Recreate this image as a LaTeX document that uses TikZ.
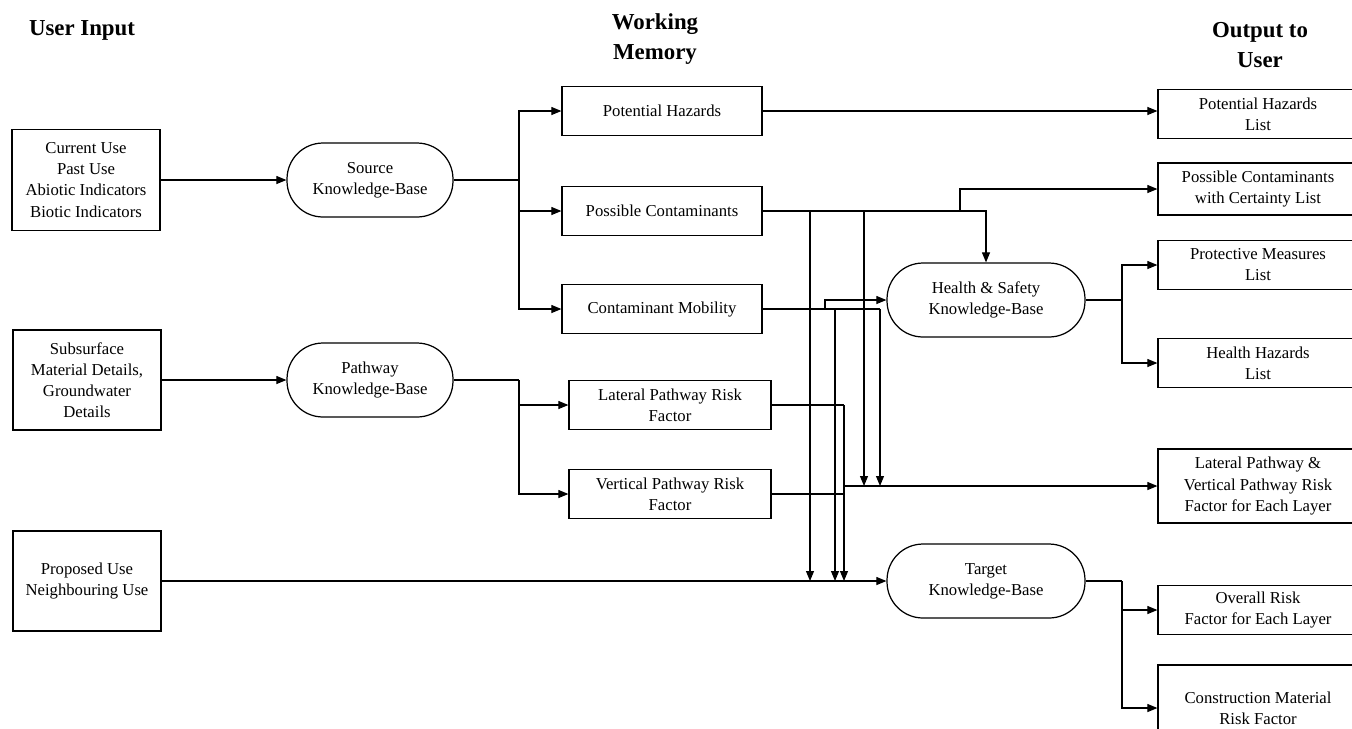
\documentclass[tikz,border=0pt]{standalone}
\usepackage{fontspec}
\setmainfont{Liberation Serif}
\usetikzlibrary{arrows.meta}
\tikzset{box/.style = {draw, line width=0.7pt, align=center, inner sep=2pt,
                       font=\fontsize{9.5}{12}\selectfont, minimum height=0.98cm}}
\tikzset{kb/.style = {box, rounded corners=0.72cm, minimum width=3.32cm, minimum height=1.48cm}}
\tikzset{head/.style = {align=center, font=\fontsize{13}{17}\selectfont\bfseries}}
\tikzset{link/.style = {line width=0.6pt}}
\tikzset{arr/.style = {line width=0.6pt, -{Triangle[length=2mm, width=1.6mm]}}}

\begin{document}
\begin{tikzpicture}[x=0.02cm, y=-0.02cm]
    \useasboundingbox (0, 0) rectangle (1352, 728);

    \node [head] (hin) at (82, 30) {User Input};
    \node [head] (hwm) at (655, 39) {Working\\Memory};
    \node [head] (hout) at (1260, 45) {Output to\\User};

    \node [box, minimum width=2.96cm, minimum height=2.02cm] (in1) at (86, 180) {Current Use\\Past Use\\Abiotic Indicators\\Biotic Indicators};
    \node [box, minimum width=2.96cm, minimum height=2cm] (in2) at (87, 380) {Subsurface\\Material Details,\\Groundwater\\Details};
    \node [box, minimum width=2.96cm, minimum height=2cm] (in3) at (87, 581) {Proposed Use\\Neighbouring Use};

    \node [kb] (skb) at (370, 180) {Source\\Knowledge-Base};
    \node [kb] (pkb) at (370, 380) {Pathway\\Knowledge-Base};
    \node [kb, minimum width=3.96cm] (hkb) at (986, 300) {Health \& Safety\\Knowledge-Base};
    \node [kb, minimum width=3.96cm] (tkb) at (986, 581) {Target\\Knowledge-Base};

    \node [box, minimum width=4cm] (ph) at (662, 111) {Potential Hazards};
    \node [box, minimum width=4cm] (pc) at (662, 211) {Possible Contaminants};
    \node [box, minimum width=4cm] (cm) at (662, 309) {Contaminant Mobility};
    \node [box, minimum width=4.04cm] (lp) at (670, 405) {Lateral Pathway Risk\\Factor};
    \node [box, minimum width=4.04cm] (vp) at (670, 494) {Vertical Pathway Risk\\Factor};

    \node [box, minimum width=4cm] (o1) at (1258, 114) {Potential Hazards\\List};
    \node [box, minimum width=4cm, minimum height=1.04cm] (o2) at (1258, 189) {Possible Contaminants\\with Certainty List};
    \node [box, minimum width=4cm] (o3) at (1258, 265) {Protective Measures\\List};
    \node [box, minimum width=4cm] (o4) at (1258, 363) {Health Hazards\\List};
    \node [box, minimum width=4cm, minimum height=1.48cm] (o5) at (1258, 486) {Lateral Pathway \&\\Vertical Pathway Risk\\Factor for Each Layer};
    \node [box, minimum width=4cm] (o6) at (1258, 610) {Overall Risk\\Factor for Each Layer};
    \node [box, minimum width=4cm, minimum height=1.72cm] (o7) at (1258, 708) {Construction Material\\Risk Factor};

    \coordinate (sj) at (519, 180);
    \coordinate (pj) at (519, 380);
    \coordinate (pc1) at (810, 211);
    \coordinate (pc2) at (864, 211);
    \coordinate (pc3) at (960, 211);
    \coordinate (cm1) at (825, 309);
    \coordinate (cm2) at (835, 309);
    \coordinate (cm3) at (880, 309);
    \coordinate (lj) at (844, 405);
    \coordinate (lv) at (844, 486);
    \coordinate (hj) at (1122, 300);
    \coordinate (tj) at (1122, 581);

    \draw [arr] (in1) -- (skb);
    \draw [link] (skb) -- (sj);
    \foreach \t in {ph, pc, cm} {
      \draw [arr] (sj) |- (\t);
    }

    \draw [arr] (in2) -- (pkb);
    \draw [link] (pkb) -- (pj);
    \foreach \t in {lp, vp} {
      \draw [arr] (pj) |- (\t);
    }

    \draw [arr] (in3) -- (tkb);
    \draw [arr] (ph) -- (ph.east -| o1.west);

    \draw [arr] (pc) -| (hkb);
    \draw [arr] (pc3) |- (o2);
    \draw [arr] (pc1) -- (pc1 |- tkb);
    \draw [arr] (pc2) -- (pc2 |- lv);

    \draw [link] (cm) -- (cm3);
    \draw [arr] (cm1) |- (hkb);
    \draw [arr] (cm2) -- (cm2 |- tkb);
    \draw [arr] (cm3) -- (cm3 |- lv);

    \draw [link] (lp) -- (lj);
    \draw [arr] (lj) -- (lj |- tkb);
    \draw [link] (vp) -- (vp -| lj);
    \draw [arr] (lv) -- (o5);

    \draw [link] (hkb) -- (hj);
    \foreach \t in {o3, o4} {
      \draw [arr] (hj) |- (\t);
    }
    \draw [link] (tkb) -- (tj);
    \foreach \t in {o6, o7} {
      \draw [arr] (tj) |- (\t);
    }
\end{tikzpicture}
\end{document}
